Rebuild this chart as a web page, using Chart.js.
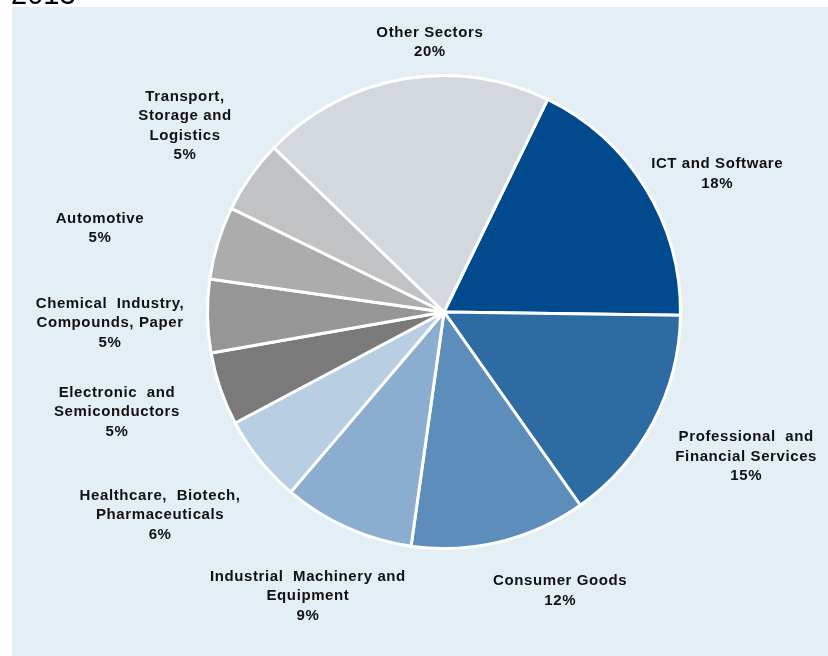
<!DOCTYPE html>
<html>
<head>
<meta charset="utf-8">
<script src="https://cdn.jsdelivr.net/npm/chart.js@4"></script>
<style>
  html, body { margin: 0; padding: 0; background: #fff; }
  #wrap { position: relative; width: 828px; height: 656px; }
</style>
</head>
<body>
<div id="wrap"><canvas id="settori" width="828" height="656"></canvas></div>
<script>
const settori = [
  ["ICT and Software"],
  ["Professional  and", "Financial Services"],
  ["Consumer Goods"],
  ["Industrial  Machinery and", "Equipment"],
  ["Healthcare,  Biotech,", "Pharmaceuticals"],
  ["Electronic  and", "Semiconductors"],
  ["Chemical  Industry,", "Compounds, Paper"],
  ["Automotive"],
  ["Transport,", "Storage and", "Logistics"],
  ["Other Sectors"]
];
const quote = [18, 15, 12, 9, 6, 5, 5, 5, 5, 20];
const colori = ["#004a8d", "#2e6ba3", "#5c8dbb", "#8badd0", "#b8cee3", "#7a7a7a", "#969696", "#acacac", "#c0c2c4", "#d3d8de"];

// dove mettere le etichette: spostamento angolare (gradi) e distanza (x raggio)
const etichettaAngolo = [4.8, -2.2, -9, 1.4, 3.2, 2, -0.9, -3.3, 0.7, 7];
const etichettaDist = [1.286, 1.408, 1.27, 1.323, 1.467, 1.437, 1.404, 1.488, 1.34, 1.135];

const sfondo = {
  id: "sfondo",
  beforeDraw(chart) {
    const ctx = chart.ctx;
    ctx.save();
    ctx.fillStyle = "#e3eef5";
    ctx.fillRect(12, 7, 816, 649);
    ctx.fillStyle = "#000";
    ctx.font = "29px 'Liberation Sans', Arial, sans-serif";
    ctx.textBaseline = "alphabetic";
    ctx.textAlign = "left";
    ctx.fillText("2013", 11, 4);
    ctx.restore();
  }
};

const etichette = {
  id: "etichette",
  afterDatasetsDraw(chart) {
    const ctx = chart.ctx;
    const archi = chart.getDatasetMeta(0).data;
    ctx.save();
    ctx.fillStyle = "#111";
    ctx.font = "bold 15px 'Liberation Sans', Arial, sans-serif";
    ctx.letterSpacing = "0.6px";
    ctx.textAlign = "center";
    ctx.textBaseline = "middle";
    const lh = 19.5;
    archi.forEach((arco, i) => {
      const p = arco.getProps(["x", "y", "startAngle", "endAngle", "outerRadius"], true);
      const a = (p.startAngle + p.endAngle) / 2 + etichettaAngolo[i] * Math.PI / 180;
      const r = (p.outerRadius + 1.5) * etichettaDist[i];
      const cx = p.x + Math.cos(a) * r;
      const cy = p.y + Math.sin(a) * r;
      const righe = settori[i].concat([quote[i] + "%"]);
      const y0 = cy - (righe.length - 1) * lh / 2;
      righe.forEach((t, k) => ctx.fillText(t, cx, y0 + k * lh));
    });
    ctx.restore();
  }
};

new Chart(document.getElementById("settori"), {
  type: "pie",
  data: {
    labels: settori,
    datasets: [{
      data: quote,
      backgroundColor: colori,
      borderColor: "#ffffff",
      borderWidth: 3
    }]
  },
  options: {
    responsive: false,
    animation: false,
    rotation: 26,
    layout: { padding: { top: 74, bottom: 106, left: 60, right: 0 } },
    plugins: {
      legend: { display: false },
      tooltip: { enabled: false }
    }
  },
  plugins: [sfondo, etichette]
});
</script>
</body>
</html>
